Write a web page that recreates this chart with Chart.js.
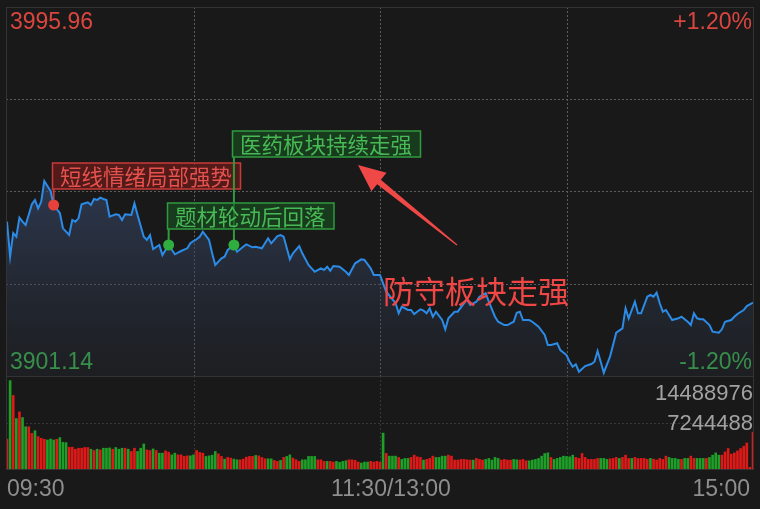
<!DOCTYPE html>
<html>
<head>
<meta charset="utf-8">
<script src="https://cdn.jsdelivr.net/npm/chart.js@4.4.1/dist/chart.umd.min.js"></script>
<style>
  html, body { margin: 0; padding: 0; background: #191919; }
  #wrap { position: relative; width: 760px; height: 509px; }
  #wrap canvas { position: absolute; left: 0; top: 0; }
</style>
</head>
<body>
<div id="wrap">
  <canvas id="priceChart" width="760" height="509"></canvas>
  <canvas id="volChart" width="760" height="509"></canvas>
</div>
<script>
// minute index (0 = 09:30, 120 = 11:30/13:00, 240 = 15:00) and index level
const priceTime = [0,1,2,3,4,5,6,8,9,10,11,12,14,15,17,18,20,21,22,23,24,26,27,28,29,30,31,32,33,35,36,37,38,40,41,42,44,45,46,47,49,50,51,52,54,56,58,59,60,61,62,63,65,66,67,69,70,71,73,74,76,77,79,80,82,83,84,85,87,88,89,91,92,94,95,97,98,99,101,102,103,104,105,107,109,110,112,114,115,117,118,120,
  122,125,126,127,129,130,131,133,134,135,136,137,138,140,141,142,144,145,147,148,149,151,152,154,155,157,158,160,161,163,164,165,166,168,169,171,173,174,175,177,178,180,181,182,183,184,186,188,189,190,191,192,194,196,198,199,200,202,203,204,206,207,208,209,210,211,212,213,214,216,217,219,220,221,222,223,224,226,227,229,230,231,233,234,235,237,238,239,240];
const price = [3940.79,3931.79,3937.88,3936.93,3941.82,3940.79,3939.94,3945.26,3946.37,3944.23,3945.93,3951.25,3948.68,3945.08,3943.02,3939.09,3937.37,3941.23,3940.79,3941.66,3945.26,3945.77,3945.08,3946.62,3946.37,3946.96,3946.62,3946.37,3942.07,3942.69,3942.51,3941.23,3942.69,3942.51,3945.52,3942.51,3936.93,3936.09,3937.37,3933.77,3934.80,3932.23,3933.52,3934.80,3932.41,3933.26,3933.95,3935.24,3935.83,3936.27,3936.93,3938.22,3936.09,3932.67,3929.66,3931.38,3931.79,3933.52,3934.80,3933.08,3934.36,3934.98,3934.21,3934.36,3933.95,3935.24,3936.52,3935.24,3937.11,3937.37,3936.93,3931.13,3932.67,3934.54,3932.67,3929.66,3928.81,3927.94,3928.81,3928.38,3929.22,3928.20,3929.40,3929.22,3927.94,3927.09,3930.10,3931.13,3930.95,3928.81,3927.09,3927.09,
  3922.80,3919.89,3917.25,3918.94,3918.10,3918.10,3917.07,3918.28,3917.92,3917.25,3918.53,3916.37,3917.66,3915.53,3913.14,3915.96,3917.66,3917.66,3919.82,3920.85,3919.38,3920.23,3921.51,3922.39,3920.23,3916.37,3915.09,3914.24,3914.24,3915.09,3917.40,3917.66,3915.53,3915.53,3915.09,3913.80,3911.67,3909.10,3909.10,3909.54,3907.82,3906.53,3904.81,3903.52,3904.14,3902.24,3903.70,3904.22,3904.81,3907.56,3904.81,3901.98,3906.09,3912.26,3913.39,3918.53,3915.96,3920.23,3917.25,3917.25,3921.51,3921.95,3921.51,3922.54,3919.82,3917.66,3918.10,3916.81,3915.53,3915.96,3916.37,3915.09,3914.24,3917.25,3915.96,3915.71,3915.71,3914.24,3912.52,3912.26,3913.14,3915.09,3915.53,3916.37,3917.07,3918.10,3919.12,3919.56,3919.97];

const priceHigh = 3995.96;
const priceLow = 3901.14;
const pctRange = 1.20;

// per-minute volume, 241 bars; volUp: 1 = red (up), 0 = green (down)
const volume = [
  4721000,13912000,11576000,7946000,8989000,8101000,6652000,6652000,5609000,6029000,
  5094000,4830000,4674000,4565000,4721000,4565000,4674000,4939000,4206000,4160000,
  3428000,3428000,3116000,3272000,3272000,3381000,3381000,3116000,2913000,3116000,
  3007000,3272000,3272000,3318000,3116000,3381000,3116000,3272000,3272000,3116000,
  2758000,3272000,2758000,3272000,3942000,3007000,2913000,3163000,2913000,2493000,
  2493000,2851000,2649000,2228000,2493000,2228000,2228000,1979000,2072000,2072000,2228000,
  2913000,2602000,2493000,1979000,2072000,2181000,2758000,2384000,1979000,1558000,
  1823000,1714000,1558000,1449000,1449000,1558000,1870000,1979000,1979000,2134000,
  2072000,1823000,1605000,1605000,1605000,1355000,1200000,1355000,1823000,1979000,
  2228000,1714000,1449000,1200000,1449000,1449000,1979000,1979000,1979000,1449000,
  1449000,1200000,1200000,1200000,1091000,1200000,1044000,1200000,1293000,1449000,
  1449000,1355000,1091000,935000,1091000,1091000,1200000,1091000,1200000,1091000,5655000,
  2446000,2025000,2025000,2025000,1823000,1511000,1667000,1667000,1823000,2181000,
  1916000,1823000,1402000,1511000,1667000,2025000,1823000,1823000,2025000,2025000,
  2181000,2025000,1402000,1402000,1511000,1511000,1449000,1402000,1402000,1667000,
  1511000,1402000,1511000,1667000,1402000,1823000,1667000,1402000,1511000,1402000,
  1402000,1511000,1449000,1402000,1511000,1293000,1293000,1402000,1511000,1667000,
  2025000,2446000,2539000,1823000,1511000,1667000,1823000,2025000,1979000,1916000,
  2181000,1823000,1667000,2446000,1823000,1511000,1511000,1511000,1667000,1667000,
  1667000,1511000,1605000,1667000,1823000,1667000,1823000,2181000,1667000,1667000,
  1823000,1667000,1667000,1667000,1511000,1667000,1558000,1402000,1667000,1511000,
  2025000,1823000,1667000,1667000,1511000,1511000,1667000,1667000,2025000,1667000,
  1667000,1667000,1667000,1667000,1823000,2181000,2539000,2181000,2181000,2695000,
  3225000,2337000,2539000,2851000,3225000,3583000,4097000,265000,5811000];
const volUp = [
  1,0,1,0,1,0,0,1,1,0, 1,1,1,0,0,0,1,0,0,0, 1,1,1,1,1,1,1,0,1,0, 1,0,0,0,1,0,0,0,1,0,
  1,1,0,0,0,1,1,0,1,0, 0,1,1,0,0,1,1,1,1,0,0,
  1,1,1,0,0,0,0,1,1,0, 1,1,0,0,1,1,1,1,1,0, 1,1,1,0,0,1,1,0,1,0, 0,1,1,1,0,0,0,0,0,1,
  1,1,0,1,1,0,0,0,0,1, 1,1,1,0,0,0,1,1,1,1,0,
  1,0,0,0,1,0,0,0,1,1, 1,1,0,1,1,1,0,0,0,0, 1,1,1,1,1,1,1,1,0,1, 1,1,0,0,0,0,0,1,1,1,
  1,0,0,1,1,1,0,0,0,0, 0,0,0,1,0,0,0,0,0,0, 0,1,1,1,1,1,1,1,1,0, 0,0,1,1,1,0,1,1,1,0,
  1,1,1,1,1,0,1,1,1,1, 1,0,0,0,0,1,0,0,1,1, 0,0,0,1,0,0,0,0,1,1, 1,1,1,1,1,1,1,1,1];
const volMax = 14488976;

const timeLabels = ['09:30', '11:30/13:00', '15:00'];

// event notes on the intraday line
const notes = [
  { t: 15, text: '短线情绪局部强势', up: true },
  { t: 73, text: '医药板块持续走强', up: false },
  { t: 52, text: '题材轮动后回落', up: false }
];
const bigNote = '防守板块走强';

const RED = '#d9463f';
const GREEN = '#3aa649';
const NUM_FONT = '"Liberation Sans", Arial, sans-serif';
const CJK_FONT = '"Noto Sans CJK SC", sans-serif';

const priceAt = (t) => price[priceTime.indexOf(t)];

function dotted(ctx, x1, y1, x2, y2, color) {
  ctx.save();
  ctx.strokeStyle = color;
  ctx.lineWidth = 1;
  ctx.setLineDash([2, 2]);
  ctx.beginPath();
  ctx.moveTo(x1, y1);
  ctx.lineTo(x2, y2);
  ctx.stroke();
  ctx.restore();
}

function text(ctx, str, x, y, color, font, align) {
  ctx.fillStyle = color;
  ctx.font = font;
  ctx.textAlign = align || 'left';
  ctx.textBaseline = 'middle';
  ctx.fillText(str, x, y);
}

const backdrop = {
  id: 'backdrop',
  beforeDraw(chart) {
    const { ctx, chartArea: a, scales } = chart;
    ctx.save();
    ctx.fillStyle = '#191919';
    ctx.fillRect(0, 0, chart.width, chart.height);

    const left = a.left - 1, right = a.right + 1;
    const volTop = a.bottom, volBottom = 469;
    // horizontal dotted lines (quarters of the price range, half of volume)
    for (let k = 1; k < 4; k++) {
      const y = Math.round(scales.y.getPixelForValue(priceLow + (priceHigh - priceLow) * k / 4)) + 0.5;
      dotted(ctx, left, y, right, y, '#5c5c5c');
    }
    dotted(ctx, left, 423.5, right, 423.5, '#383838');
    // vertical dotted lines every hour
    [60, 120, 180].forEach(m => {
      const x = Math.round(scales.x.getPixelForValue(m)) + 0.5;
      dotted(ctx, x, a.top, x, volTop, '#5c5c5c');
      dotted(ctx, x, volTop, x, volBottom, '#383838');
    });
    // frame
    ctx.strokeStyle = '#333';
    ctx.lineWidth = 1;
    ctx.setLineDash([]);
    ctx.strokeRect(left + 0.5, a.top + 0.5, right - left - 1, volBottom - a.top);
    ctx.beginPath();
    ctx.moveTo(left, volTop + 0.5);
    ctx.lineTo(right, volTop + 0.5);
    ctx.stroke();

    // axis labels
    text(ctx, priceHigh.toFixed(2), 10, 23, RED, '23px ' + NUM_FONT);
    text(ctx, '+' + pctRange.toFixed(2) + '%', 752, 23, RED, '23px ' + NUM_FONT, 'right');
    text(ctx, priceLow.toFixed(2), 10, 363, GREEN, '23px ' + NUM_FONT);
    text(ctx, '-' + pctRange.toFixed(2) + '%', 752, 363, GREEN, '23px ' + NUM_FONT, 'right');
    text(ctx, timeLabels[0], 7, 490, '#8e8e8e', '23px ' + NUM_FONT);
    text(ctx, timeLabels[1], 391, 490, '#8e8e8e', '23px ' + NUM_FONT, 'center');
    text(ctx, timeLabels[2], 750, 490, '#8e8e8e', '23px ' + NUM_FONT, 'right');
    ctx.restore();
  },
  beforeDatasetsDraw(chart) {
    const { ctx, scales } = chart;
    const boxTops = [163, 131, 203];
    ctx.save();
    notes.forEach((n, i) => {
      const x = scales.x.getPixelForValue(n.t);
      const y = scales.y.getPixelForValue(priceAt(n.t));
      const stroke = n.up ? '#c83b38' : '#2f9b3e';
      const fill = n.up ? 'rgba(115,28,28,0.65)' : 'rgba(24,78,34,0.65)';
      const color = n.up ? '#e5524d' : '#47b955';
      ctx.font = '21.5px ' + CJK_FONT;
      const w = ctx.measureText(n.text).width + 16;
      const top = boxTops[i], h = 26, bx = Math.round(x) - 1.5;
      // connector
      ctx.strokeStyle = stroke;
      ctx.lineWidth = 2;
      ctx.beginPath();
      ctx.moveTo(x, top + h);
      ctx.lineTo(x, y);
      ctx.stroke();
      // box
      ctx.fillStyle = fill;
      ctx.fillRect(bx, top, w, h);
      ctx.lineWidth = 1.5;
      ctx.strokeRect(bx, top, w, h);
      text(ctx, n.text, bx + 7.5, top + h / 2 + 1, color, '21.5px ' + CJK_FONT);
    });
    ctx.restore();
  },
  afterDatasetsDraw(chart) {
    const { ctx } = chart;
    ctx.save();
    // arrow pointing at the medicine note
    const tip = [358, 165], tail = [457, 245];
    const dx = tail[0] - tip[0], dy = tail[1] - tip[1];
    const len = Math.hypot(dx, dy), ux = dx / len, uy = dy / len, px = -uy, py = ux;
    const bc = [tip[0] + ux * 27, tip[1] + uy * 27];
    ctx.fillStyle = '#f04747';
    ctx.beginPath();
    ctx.moveTo(tip[0], tip[1]);
    ctx.lineTo(bc[0] + px * 12, bc[1] + py * 12);
    ctx.lineTo(bc[0] + px * 3, bc[1] + py * 3);
    ctx.lineTo(tail[0] + px * 0.6, tail[1] + py * 0.6);
    ctx.lineTo(tail[0] - px * 0.6, tail[1] - py * 0.6);
    ctx.lineTo(bc[0] - px * 3, bc[1] - py * 3);
    ctx.lineTo(bc[0] - px * 12, bc[1] - py * 12);
    ctx.closePath();
    ctx.fill();
    text(ctx, bigNote, 383, 291, '#ef4646', '31px ' + CJK_FONT);
    ctx.restore();
  }
};

new Chart(document.getElementById('priceChart'), {
  type: 'line',
  data: {
    datasets: [{
      order: 2,
      data: priceTime.map((t, i) => ({ x: t, y: price[i] })),
      borderColor: '#2b8be6',
      borderWidth: 2,
      pointRadius: 0,
      tension: 0,
      fill: 'start',
      backgroundColor: (c) => {
        const a = c.chart.chartArea;
        if (!a) return 'transparent';
        const g = c.chart.ctx.createLinearGradient(0, 180, 0, a.bottom);
        g.addColorStop(0, 'rgba(58,76,112,0.62)');
        g.addColorStop(1, 'rgba(45,55,75,0.18)');
        return g;
      }
    }, {
      order: 1,
      data: notes.map(n => ({ x: n.t, y: priceAt(n.t) })),
      showLine: false,
      pointRadius: 5.5,
      pointBorderWidth: 0,
      pointBackgroundColor: notes.map(n => n.up ? '#e8413c' : '#2fae3f')
    }]
  },
  options: {
    responsive: false,
    animation: false,
    layout: { padding: { left: 7, right: 7, top: 7, bottom: 133 } },
    plugins: { legend: { display: false }, tooltip: { enabled: false } },
    scales: {
      x: { type: 'linear', min: 0, max: 240, display: false },
      y: { min: priceLow, max: priceHigh, display: false }
    }
  },
  plugins: [backdrop]
});

const volLabels = {
  id: 'volLabels',
  afterDraw(chart) {
    const { ctx } = chart;
    ctx.save();
    text(ctx, String(volMax), 753, 394, '#a2a2a2', '22px ' + NUM_FONT, 'right');
    text(ctx, String(volMax / 2), 753, 424, '#a2a2a2', '22px ' + NUM_FONT, 'right');
    ctx.restore();
  }
};

new Chart(document.getElementById('volChart'), {
  type: 'bar',
  data: {
    datasets: [{
      data: volume.map((v, i) => ({ x: i, y: v })),
      backgroundColor: volUp.map(u => u ? '#de1a18' : '#1d9f28'),
      borderWidth: 0,
      barThickness: 2
    }]
  },
  options: {
    responsive: false,
    animation: false,
    layout: { padding: { left: 7, right: 7, top: 377, bottom: 40 } },
    plugins: { legend: { display: false }, tooltip: { enabled: false } },
    scales: {
      x: { type: 'linear', min: 0, max: 240, offset: false, display: false },
      y: { min: 0, max: volMax, display: false }
    }
  },
  plugins: [volLabels]
});
</script>
</body>
</html>
